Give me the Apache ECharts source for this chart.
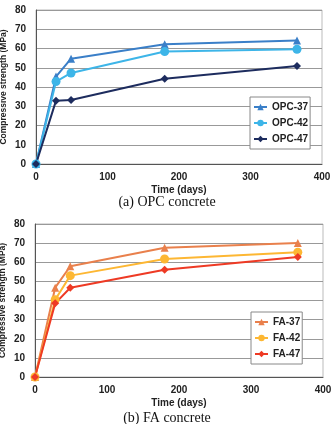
<!DOCTYPE html>
<html>
<head>
<meta charset="utf-8">
<script src="https://cdn.jsdelivr.net/npm/echarts@6/dist/echarts.min.js"></script>
<style>
  html, body { margin: 0; padding: 0; background: #fff; }
  #chart { width: 334px; height: 424px; }
</style>
</head>
<body>
<div id="chart"></div>
<script>
  // curing age in days
  var days = [0, 28, 49, 180, 365];

  var opc37 = [0, 45.4, 54.7, 62.2, 64.1];
  var opc42 = [0, 42.8, 47.3, 58.4, 59.6];
  var opc47 = [0, 32.9, 33.2, 44.3, 50.9];

  var fa37 = [0, 46.7, 57.9, 67.6, 70.1];
  var fa42 = [0, 40.4, 53.0, 61.7, 65.2];
  var fa47 = [0, 38.5, 46.7, 56.1, 62.7];

  var xTicks = [0, 100, 200, 300, 400];
  var yTicks = [0, 10, 20, 30, 40, 50, 60, 70, 80];

  var font = 'Liberation Sans, Arial, sans-serif';

  function pairs(vals) {
    return days.map(function (d, i) { return [d, vals[i]]; });
  }

  function xAxis(idx) {
    return {
      type: 'value', gridIndex: idx,
      min: xTicks[0], max: xTicks[xTicks.length - 1], interval: 100,
      name: 'Time (days)', nameLocation: 'middle', nameGap: 21, nameMoveOverlap: false,
      nameTextStyle: { fontFamily: font, fontWeight: 'bold', fontSize: 10, color: '#222' },
      axisLine: { lineStyle: { color: '#555', width: 1 } },
      axisTick: { show: false },
      splitLine: { show: false },
      axisLabel: { fontFamily: font, fontWeight: 'bold', fontSize: 10, color: '#222', margin: 8 }
    };
  }

  function yAxis(idx) {
    return {
      type: 'value', gridIndex: idx,
      min: yTicks[0], max: yTicks[yTicks.length - 1], interval: 10,
      name: 'Compressive strength (MPa)', nameLocation: 'middle', nameGap: 28, nameMoveOverlap: false,
      nameTextStyle: { fontFamily: font, fontWeight: 'bold', fontSize: 8.5, color: '#222' },
      axisLine: { show: true, lineStyle: { color: '#555', width: 1 } },
      axisTick: { show: false },
      splitLine: { lineStyle: { color: '#999', width: 1 } },
      axisLabel: { fontFamily: font, fontWeight: 'bold', fontSize: 10, color: '#222', margin: 10 }
    };
  }

  function line(name, vals, idx, color, symbol, size) {
    return {
      name: name, type: 'line', xAxisIndex: idx, yAxisIndex: idx,
      data: pairs(vals),
      symbol: symbol, symbolSize: size,
      lineStyle: { color: color, width: 2 },
      itemStyle: { color: color },
      z: 3
    };
  }

  function legend(names, top, left) {
    return {
      data: names, orient: 'vertical',
      left: left, top: top,
      itemWidth: 13, itemHeight: 8, itemGap: 6,
      padding: [5, 2, 5, 3],
      backgroundColor: '#fff',
      borderColor: '#888', borderWidth: 1,
      textStyle: { fontFamily: font, fontWeight: 'bold', fontSize: 10, color: '#222' }
    };
  }

  var chart = echarts.init(document.getElementById('chart'), null, { renderer: 'canvas' });
  chart.setOption({
    animation: false,
    grid: [
      { left: 36, right: 12, top: 10, height: 154, show: true, borderColor: '#bbb', borderWidth: 1,
        containLabel: false, outerBoundsMode: 'none' },
      { left: 35, right: 11, top: 224, height: 153, show: true, borderColor: '#bbb', borderWidth: 1,
        containLabel: false, outerBoundsMode: 'none' }
    ],
    xAxis: [xAxis(0), xAxis(1)],
    yAxis: [yAxis(0), yAxis(1)],
    legend: [
      legend(['OPC-37', 'OPC-42', 'OPC-47'], 97, 250),
      legend(['FA-37', 'FA-42', 'FA-47'], 312, 251)
    ],
    graphic: [
      { type: 'text', left: 'center', top: 195,
        style: { text: '(a) OPC concrete', font: '14px Liberation Serif, serif', fill: '#111' } },
      { type: 'text', left: 'center', top: 411,
        style: { text: '(b) FA concrete', font: '14px Liberation Serif, serif', fill: '#111' } }
    ],
    series: [
      line('OPC-37', opc37, 0, '#3a7fc8', 'triangle', 8),
      line('OPC-42', opc42, 0, '#3db5e8', 'circle', 9),
      line('OPC-47', opc47, 0, '#1d2c5e', 'diamond', 8),
      line('FA-37', fa37, 1, '#e9804c', 'triangle', 8),
      line('FA-42', fa42, 1, '#fdb733', 'circle', 9),
      line('FA-47', fa47, 1, '#ee3a24', 'diamond', 8)
    ]
  });
</script>
</body>
</html>
